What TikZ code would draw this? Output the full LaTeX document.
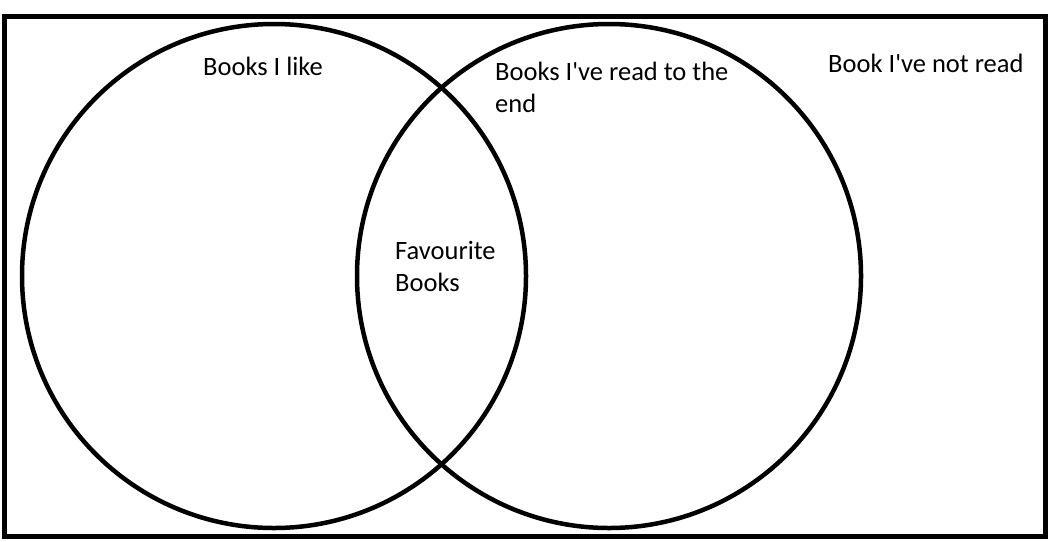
\documentclass[tikz,border=0pt]{standalone}
\usepackage{fontspec}
\setmainfont{Carlito}
\begin{document}
\begin{tikzpicture}[x=1pt,y=-1pt,
  venn/.style={draw,line width=4.5pt,circle,minimum size=504pt,inner sep=0pt},
  lbl/.style={anchor=base west,inner sep=0pt,align=left,font=\fontsize{26.5}{32}\selectfont}]
\useasboundingbox (0,0) rectangle (1048,541);
\draw[line width=5pt] (4,16.5) rectangle (1045,536);
\node[venn] (like) at (274,276) {};
\node[venn] (read) at (609,276) {};
% two-line labels sit on their last baseline
\node[lbl] (liketxt) at (203,75) {Books I like};
\node[lbl] (readtxt) at (495,112.7) {Books I\textquotesingle ve read to the\\end};
\node[lbl] (nottxt) at (828,72.7) {Book I\textquotesingle ve not read};
\node[lbl] (favtxt) at (395,291.7) {Favourite\\Books};
\end{tikzpicture}
\end{document}
